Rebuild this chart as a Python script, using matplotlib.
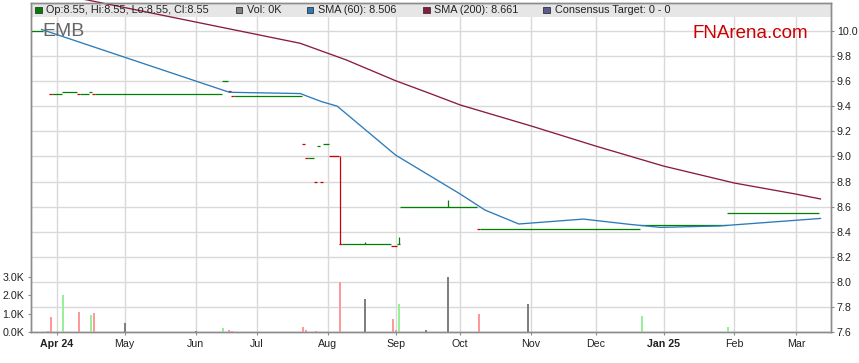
import numpy as np
import matplotlib.pyplot as plt
from matplotlib.patches import Rectangle

plt.rcParams['font.family'] = ['Liberation Sans', 'DejaVu Sans']

W, H = 859, 363
BASE = '2024-04-01'

# price runs: each run is a string of daily bars at the same close
run_start = ['2024-03-20', '2024-03-28', '2024-03-29', '2024-04-03', '2024-04-10',
             '2024-04-11', '2024-04-16', '2024-04-17', '2024-04-18', '2024-06-14',
             '2024-06-18', '2024-06-19', '2024-06-20', '2024-07-22', '2024-07-23',
             '2024-07-24', '2024-07-26', '2024-07-29', '2024-07-30', '2024-07-31',
             '2024-08-02', '2024-08-07', '2024-08-08', '2024-08-30', '2024-09-03',
             '2024-09-04', '2024-10-09', '2024-10-10', '2024-12-23', '2025-01-30']
run_end = ['2024-03-25', '2024-03-28', '2024-04-02', '2024-04-09', '2024-04-10',
           '2024-04-15', '2024-04-16', '2024-04-17', '2024-06-13', '2024-06-17',
           '2024-06-18', '2024-06-19', '2024-07-19', '2024-07-22', '2024-07-23',
           '2024-07-25', '2024-07-26', '2024-07-29', '2024-07-30', '2024-08-01',
           '2024-08-06', '2024-08-07', '2024-08-29', '2024-09-02', '2024-09-03',
           '2024-10-08', '2024-10-09', '2024-12-20', '2025-01-29', '2025-03-12']
run_price = [10.00, 9.50, 9.50, 9.51, 9.50, 9.50, 9.51, 9.50, 9.50, 9.60,
             9.52, 9.48, 9.48, 9.10, 8.99, 8.99, 8.80, 9.08, 8.80, 9.10,
             9.00, 8.30, 8.30, 8.29, 8.30, 8.60, 8.42, 8.42, 8.45, 8.55]
run_dir = ['up', 'down', 'up', 'up', 'down', 'up', 'up', 'down', 'up', 'up',
           'down', 'down', 'up', 'down', 'down', 'up', 'down', 'up', 'down', 'up',
           'down', 'down', 'up', 'down', 'up', 'up', 'down', 'up', 'up', 'up']

# high-low ranges
hl_date = ['2024-08-07', '2024-08-19', '2024-09-03', '2024-09-25']
hl_low = [8.30, 8.30, 8.30, 8.60]
hl_high = [9.00, 8.32, 8.36, 8.65]
hl_dir = ['down', 'up', 'up', 'up']

# volume (thousands)
vol_date = ['2024-03-27', '2024-03-28', '2024-04-03', '2024-04-10', '2024-04-16',
            '2024-04-17', '2024-05-01', '2024-06-03', '2024-06-14', '2024-06-18',
            '2024-06-19', '2024-07-22', '2024-07-23', '2024-07-26', '2024-08-07',
            '2024-08-19', '2024-08-30', '2024-09-02', '2024-09-03', '2024-09-16',
            '2024-09-25', '2024-10-09', '2024-10-31', '2024-12-23', '2025-01-30']
vol_k = [0.05, 0.85, 2.0, 1.12, 0.92, 1.03, 0.5, 0.07, 0.23, 0.12,
         0.07, 0.27, 0.12, 0.05, 2.72, 1.82, 0.7, 0.15, 1.5, 0.1,
         3.0, 0.97, 1.51, 0.9, 0.27]
vol_dir = ['down', 'down', 'up', 'down', 'up', 'down', 'flat', 'flat', 'up', 'down',
           'down', 'down', 'down', 'down', 'down', 'flat', 'down', 'down', 'up', 'flat',
           'flat', 'down', 'flat', 'up', 'up']

sma60_date = ['2024-03-25', '2024-06-18', '2024-07-19', '2024-07-30', '2024-08-06',
              '2024-09-02', '2024-10-01', '2024-10-11', '2024-10-28', '2024-11-26',
              '2024-12-17', '2024-12-31', '2025-01-27', '2025-03-13']
sma60_val = [10.01, 9.51, 9.50, 9.435, 9.40, 9.01, 8.70, 8.573, 8.462, 8.501,
             8.459, 8.435, 8.446, 8.506]

sma200_date = ['2024-04-01', '2024-04-15', '2024-07-19', '2024-08-09', '2024-09-02',
               '2024-09-17', '2024-10-01', '2024-11-01', '2024-12-02', '2025-01-01',
               '2025-02-03', '2025-03-03', '2025-03-13']
sma200_val = [10.29, 10.244, 9.90, 9.767, 9.602, 9.502, 9.409, 9.242, 9.082, 8.923,
              8.788, 8.70, 8.661]

month_start = ['2024-04-01', '2024-05-01', '2024-06-01', '2024-07-01', '2024-08-01',
               '2024-09-01', '2024-10-01', '2024-11-01', '2024-12-01', '2025-01-01',
               '2025-02-01', '2025-03-01']
month_label = ['Apr 24', 'May', 'Jun', 'Jul', 'Aug', 'Sep', 'Oct', 'Nov', 'Dec',
               'Jan 25', 'Feb', 'Mar']

price_ticks = [7.6, 7.8, 8.0, 8.2, 8.4, 8.6, 8.8, 9.0, 9.2, 9.4, 9.6, 9.8, 10.0]
vol_ticks = [0, 1, 2, 3]

PRICE_COL = {'up': '#008000', 'down': '#cc0000'}
VOL_COL = {'up': '#99ee99', 'down': '#ff9999', 'flat': '#808080'}
GRID = '#d9d9d9'
SPINE = '#8c8c8c'


def bd(dates):
    return np.busday_count(BASE, np.array(dates, dtype='datetime64[D]'))


fig = plt.figure(figsize=(W / 100, H / 100), dpi=100)
L, R, T, B = 30.7, 831.3, 2.7, 332.3
ax = fig.add_axes([L / W, 1 - B / H, (R - L) / W, (B - T) / H])
axv = ax.twinx()

# price bars
xs, xe = bd(run_start), bd(run_end)
for s, e, p, d in zip(xs, xe, run_price, run_dir):
    ax.hlines(p, s - 0.5, e + 0.5, color=PRICE_COL[d], lw=0.9, zorder=3)
for x, lo, hi, d in zip(bd(hl_date), hl_low, hl_high, hl_dir):
    ax.vlines(x, lo, hi, color=PRICE_COL[d], lw=0.9, zorder=3)

ax.plot(bd(sma60_date), sma60_val, color='#2b7bba', lw=0.95, zorder=4)
ax.plot(bd(sma200_date), sma200_val, color='#8b1a40', lw=0.95, zorder=4,
        clip_on=False)

# volume
axv.bar(bd(vol_date), vol_k, width=0.65, color=[VOL_COL[d] for d in vol_dir],
        zorder=2)

ax.set_xlim(-8.54, 251.5)
ax.set_ylim(7.6, 10.223)
axv.set_ylim(0, (B - T) / 18.57)

ax.set_yticks(price_ticks)
ax.set_yticklabels([f'{v:.1f}' for v in price_ticks])
ax.yaxis.tick_right()
axv.yaxis.tick_left()
axv.set_yticks(vol_ticks)
axv.set_yticklabels([f'{v:.1f}K' for v in vol_ticks])

month_pos = np.busday_offset(np.array(month_start, dtype='datetime64[D]'), 0,
                             roll='forward')
ax.set_xticks(np.busday_count(BASE, month_pos))
ax.set_xticklabels(month_label)
for lab in ax.get_xticklabels():
    if any(c.isdigit() for c in lab.get_text()):
        lab.set_fontweight('bold')

ax.grid(True, color=GRID, lw=1.0)
ax.set_axisbelow(True)
for a in (ax, axv):
    for sp in a.spines.values():
        sp.set_color(SPINE)
        sp.set_linewidth(1.0)
ax.tick_params(axis='y', length=2.5, pad=1.5, color=SPINE, labelcolor='#222222',
               labelsize=7.7)
axv.tick_params(axis='y', length=2.5, pad=2, color=SPINE, labelcolor='#222222',
                labelsize=7.7)
ax.tick_params(axis='x', length=2.5, pad=2.5, color=SPINE, labelcolor='#222222',
               labelsize=7.7)

# legend band
band_h = 14 / (B - T)
ax.add_patch(Rectangle((0, 1 - band_h), 1, band_h, transform=ax.transAxes,
                       facecolor='#e6e6e6', edgecolor='none', zorder=1))

legend_items = [
    (35, '#008000', 'Op:8.55, Hi:8.55, Lo:8.55, Cl:8.55'),
    (235.7, '#808080', 'Vol: 0K'),
    (306.7, '#2b7bba', 'SMA (60): 8.506'),
    (423, '#8b1a40', 'SMA (200): 8.661'),
    (543.3, '#5c5c8e', 'Consensus Target: 0 - 0'),
]
for x, col, txt in legend_items:
    fig.add_artist(Rectangle((x / W, 1 - 13.3 / H), 6.6 / W, 6.6 / H,
                             transform=fig.transFigure, facecolor=col,
                             edgecolor='#333333', lw=0.6))
    fig.text((x + 11.5) / W, 1 - 10 / H, txt, fontsize=7.8, color='#222222',
             ha='left', va='center')

fig.text(42 / W, 1 - 32 / H, 'EMB', fontsize=14, color='#666666',
         ha='left', va='center')
fig.text(692 / W, 1 - 33 / H, 'FNArena.com', fontsize=13.5, color='#cc0000',
         ha='left', va='center')

fig.savefig('out.png', dpi=100)
